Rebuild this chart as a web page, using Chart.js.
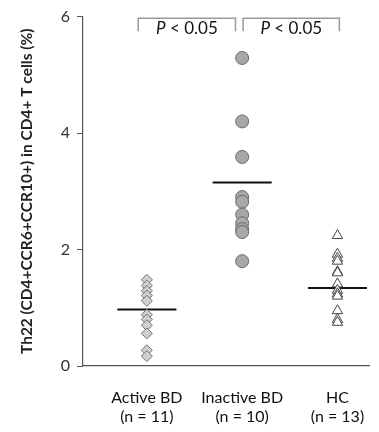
<!DOCTYPE html>
<html><head><meta charset="utf-8">
<script src="https://cdn.jsdelivr.net/npm/chart.js@4/dist/chart.umd.min.js"></script>
<style>html,body{margin:0;padding:0;background:#fff;} #wrap{width:379px;height:432px;position:relative;}</style>
</head><body><div id="wrap"><canvas id="c" width="379" height="432" style="width:379px;height:432px"></canvas></div>
<script>
const categories = ['Active BD', 'Inactive BD', 'HC'];
const sampleSizes = ['(n = 11)', '(n = 10)', '(n = 13)'];
const activeBD = [1.48, 1.38, 1.29, 1.21, 1.12, 0.88, 0.80, 0.70, 0.56, 0.27, 0.17];
const inactiveBD = [5.29, 4.20, 3.59, 2.90, 2.82, 2.60, 2.45, 2.35, 2.30, 1.80];
const hc = [2.24, 1.92, 1.85, 1.80, 1.62, 1.60, 1.41, 1.30, 1.24, 1.20, 0.95, 0.80, 0.75];
const means = [0.97, 3.15, 1.34];
const yTicks = [0, 2, 4, 6];
const comparisons = [[1, 2], [2, 3]];
const pLabels = ['P < 0.05', 'P < 0.05'];

const FONT = 'Lato, "Open Sans", sans-serif';
const groups = [activeBD, inactiveBD, hc];

function pts(arr, idx) { return arr.map(v => ({x: idx, y: v})); }

const styles = [
  {pointStyle: 'rectRot', radius: 5.5, bg: '#d0d0d0', border: '#707070'},
  {pointStyle: 'circle', radius: 6.5, bg: '#a8a8a8', border: '#6a6a6a'},
  {pointStyle: 'triangle', radius: 6, bg: '#ffffff', border: '#444444'}
];

const datasets = [];
groups.forEach((g, i) => {
  const s = styles[i];
  datasets.push({
    type: 'scatter', data: pts(g, i + 1), pointStyle: s.pointStyle, pointRadius: s.radius,
    pointBackgroundColor: s.bg, pointBorderColor: s.border, pointBorderWidth: 1, showLine: false
  });
});
means.forEach((m, i) => {
  datasets.push({
    type: 'scatter', data: [{x: i + 1 - 0.31, y: m}, {x: i + 1 + 0.31, y: m}],
    showLine: true, borderColor: '#111', borderWidth: 2, pointRadius: 0
  });
});

const bracketPlugin = {
  id: 'brackets',
  afterDatasetsDraw(chart) {
    const {ctx, scales: {x, y}} = chart;
    const spans = [[-0.09, -0.07], [0.01, 0.02]];
    ctx.save();
    comparisons.forEach((c, i) => {
      const x1 = x.getPixelForValue(c[0] + spans[i][0]);
      const x2 = x.getPixelForValue(c[1] + spans[i][1]);
      const yt = y.getPixelForValue(5.97);
      const yb = y.getPixelForValue(5.75);
      ctx.strokeStyle = '#9a9a9a';
      ctx.lineWidth = 1.5;
      ctx.beginPath();
      ctx.moveTo(x1, yb); ctx.lineTo(x1, yt); ctx.lineTo(x2, yt); ctx.lineTo(x2, yb);
      ctx.stroke();
      const label = pLabels[i];
      const first = label.charAt(0), rest = label.slice(1);
      ctx.fillStyle = '#111';
      ctx.textBaseline = 'middle';
      ctx.font = 'italic 17px ' + FONT;
      const w1 = ctx.measureText(first).width;
      ctx.font = '17px ' + FONT;
      const w2 = ctx.measureText(rest).width;
      const cx = (x1 + x2) / 2;
      const ty = y.getPixelForValue(5.79);
      let sx = cx - (w1 + w2) / 2;
      ctx.textAlign = 'left';
      ctx.font = 'italic 17px ' + FONT;
      ctx.fillText(first, sx, ty);
      ctx.font = '17px ' + FONT;
      ctx.fillText(rest, sx + w1, ty);
    });
    ctx.restore();
  }
};

new Chart(document.getElementById('c'), {
  type: 'scatter',
  data: {datasets},
  plugins: [bracketPlugin],
  options: {
    responsive: false,
    animation: false,
    layout: {padding: {top: 13, right: 4, left: 0, bottom: 0}},
    plugins: {legend: {display: false}, tooltip: {enabled: false}},
    scales: {
      x: {
        type: 'linear', min: 0.33, max: 3.34,
        afterBuildTicks: s => { s.ticks = categories.map((c, i) => ({value: i + 1})); },
        afterFit: s => { s.height = 66; },
        grid: {display: false},
        border: {display: true, color: '#555', width: 1.2},
        ticks: {
          padding: 14, color: '#111', font: {family: FONT, size: 16}, maxRotation: 0, autoSkip: false,
          callback: (v) => { const i = Math.round(v) - 1; return [categories[i], sampleSizes[i]]; }
        }
      },
      y: {
        type: 'linear', min: 0, max: 6,
        afterBuildTicks: s => { s.ticks = yTicks.map(v => ({value: v})); },
        afterFit: s => { s.width = 83; },
        grid: {drawOnChartArea: false, drawTicks: true, tickLength: 6, color: '#555'},
        border: {display: true, color: '#555', width: 1.2},
        ticks: {padding: 7, color: '#333', font: {family: FONT, size: 16}},
        title: {display: true, text: 'Th22 (CD4+CCR6+CCR10+) in CD4+ T cells (%)', color: '#222',
          font: {family: FONT, size: 15.5, weight: 'bold'}, padding: {top: 18, bottom: 0}}
      }
    }
  }
});
</script></body></html>
